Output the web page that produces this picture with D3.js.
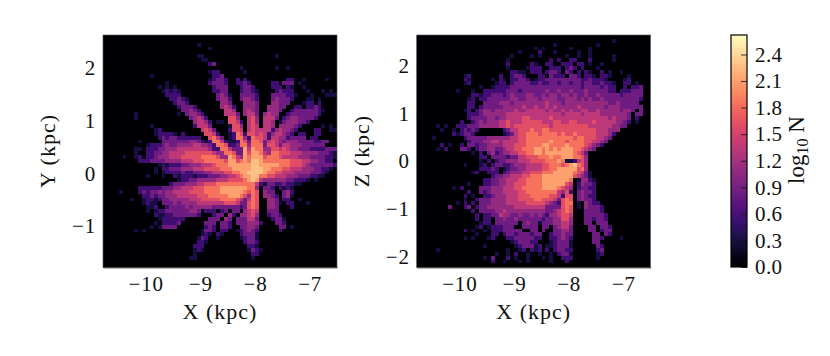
<!DOCTYPE html>
<html><head><meta charset="utf-8"><script src="https://d3js.org/d3.v7.min.js"></script>
<style>html,body{margin:0;padding:0;background:#fff}svg{display:block}text{font-family:"Liberation Serif",serif;fill:#111}</style></head>
<body><svg id="c" width="830" height="356"></svg>
<script>
// log10 N for each digit used in the grids below
const levels=[0,0.3,0.55,0.85,1.1,1.35,1.6,1.85,2.1,2.28];
const cbTicks=[0,0.3,0.6,0.9,1.2,1.5,1.8,2.1,2.4];
const xTicks=[-10,-9,-8,-7];
const yTicks=[-1,0,1,2];
const zTicks=[-2,-1,0,1,2];
const xyRows=[
"","",
".......... .......... ....1.....",
".......... .......... .......1..",
"",
".......... .......... ....11.... .......... ....1.....",
".......... .......... .....11...",
".......... .......... .......23.",
".......... .......... .......... .....1.... ....1..1..",
".......... .......... .......122 ......1...",
".......... ..1....... ........22 3.........",
".......... .......... .......123 32..2.2... .......22. .1.....1..",
".......... ......1... .......233 32..2232.. ...22.333. 1.........",
".......... ....1.1.1. ........23 33...2332. ...222.21. .1........",
".......... .....12121 ........22 33...23321 ....23222. ..1...1.1.",
".......... ......2222 .........3 431..33332 ...3333221 ...1...111",
".......... .......223 21.......3 442..34432 ...343332. ..11.1....",
".......... ........23 32........ 443...4443 ...44333.. .122.2....",
".......... .........2 3332...... 4542..4443 ..44433..2 2.2232....",
".......... .......... 33432..... .554..4543 ..4443..23 3333321...",
"........1. .........1 .34432.... .5553.4553 .4544..233 333332....",
"........1. .......... ..34542... ..664..564 .5553.2344 33332.....",
".......... .......... ...45542.1 1.6652.564 .554.13444 332.......",
".......... ..1....... ...25553.. ..1664.565 .554.44443 2.....1.1.",
".......... ...12..... .....5653. ..2665.565 5552454432 ....22..11",
".......... ...122221. 2.....6652 ..12762665 652455432. 22..22....",
".......... ....232332 22222..675 3.12774276 6525544233 33.22.....",
".........1 .....33333 3344321277 5211276377 6356543444 33332233..",
".......... .122234334 4445544327 7622377477 7366535544 4333333...",
"........11 .222334445 5555555422 7753338587 7446656544 3332222333",
"........1. .223344555 5666666654 4776338688 7547766655 5444433321",
".....1..12 .223444555 6666677776 4487548788 8677765555 4443333221",
".........2 2233334444 5556667777 7688678799 8777777766 655443322.",
".......... ....121222 3344455567 7788888899 8888877766 6543333332",
".......... ...1.22333 4445556666 7778888899 9887776655 544433221.",
".......... ...1.12222 3223334455 5667788999 9877665554 44433321..",
".......... .1...1..21 2221222333 4455678899 7766555444 3332211...",
".......... .........1 2233444445 5566667898 5444444332 221.1.....",
".......... .......233 3444556667 7777777775 2133223221 1.........",
".........2 2222233344 5556667777 8888888774 .332.2121.",
"....1....2 3233434455 5566667777 8888887676 .433..342.",
".......... 2232334445 5555666777 7788876476 .4432.341.",
".......1.. 1221233444 4455566666 7777653576 ..443.22.. 1.........",
".......... 1211.33343 4444555555 5666533676 ..4431.22. ..1.......",
".......... .112..2333 3434444433 3333323676 ..443...2.",
".......... .1.1223333 33443.222. 23.33.4565 ..333.....",
".......... ...2112233 33332...23 3.42.44564 ..2332....",
".......... ....122222 2......333 .43.333553 ...2331...",
".......... ...1.22223 ......333. 332.333444 2...332...",
".......... ..1.13333. ......232. 332..33443 .....33.1.",
"........1. 1......... .....1332. 22..123432 .....2....",
".......... .......... .....121.2 1....23331",
".......... .......... ....132..1 .....12331",
".......... .......... ....221... ......2332",
".......... .......... ...222.... .......221",
".......... .......... ...121.... .......132 1.........",
".......... .......... ...1...... ........22",
".......... .......... ..11...... ........1.",
"",""
];
const xzRows=[
"",
".......... .......... .......... .......... .......... 1.........",
".......... .......... .......... .....1.... ......1...",
".......... .......... .......... 1.1......1 ....1.....",
".......... .......... ......1... .2...1.... .1..1.....",
".......... .......... ....1....1 .1......1. .1..1..... 1.........",
".......... .......... ...1...... ....2.2..2 2...2..... 1.........",
".......... .......... ...2.....2 1..22..222 .22.1..1..",
".......... .......... ...1....12 22..222.23 2.2...1...",
".......... .......... ....2211.2 22.2332.32 .2.21..2.1 ..1.......",
".......... ..12...... .2..2332.. .22.3222.3 32.221.221 ....1.....",
".......... ..21.....1 .21.22332. 1223333333 332232221. ...12.....",
".......... ..12...... 122.233332 2322332332 3323322322 1..22.1...",
".......... ......1..1 2222333333 3333333333 3323333232 2..2.223..",
".......... 1...1..222 2223332333 3334334334 3334333332 2.222333..",
".......... ....221223 3323433344 3343443443 4334334333 33233333..",
".......... ...12.2233 3333443344 4344443344 4343433433 33333332..",
".......... ...22..333 3444344444 4445444344 4444444443 3433333...",
".......... ...22.2333 3344444544 5445454444 4544444434 44333333..",
".......... ..12.23443 4444454455 5554544545 4455445444 443443.3..",
".......... ...2223444 4445555555 5555555455 5545555444 44443.33..",
".......... ...2333344 3445555665 5555655555 5555555554 54443.2...",
".......... .2..234344 4556555666 6655566556 6555565555 54432.1...",
".....1.1.. 2223334444 4556566666 6666566666 6666555555 4433......",
"......1..1 .23232.... ..23556667 6677666666 6666665554 44........",
".........2 12332..... ..12356677 7677776766 7666665554 2.........",
"....1..... ..23333344 4444556677 7777777777 6776665543",
".......... ...2333445 5455556677 7777877767 777665543.",
"......2.1. .2.3323344 4455566677 7788777787 77765432..",
".....1.2.. .332.23344 3345566777 8878787888 776543....",
".......... ....1.2.34 2344556677 8878888888 7653......",
".......... ......22.3 3332335566 6777877888 7764......",
".......... ......1.2. 2334445556 6667778711 2564......",
".......... ..1...12.2 3322344455 5566777678 9764......",
".......... ......2223 2.12334455 5566778888 8674......",
".......... ....12..22 2.23444556 6677788888 76531.....",
".......... .........2 3344555667 7788888888 65431.....",
".......... .......223 3445556677 7788888887 .14421....",
".......... ...1...223 3445566677 7788888865 .24332....",
".........1 .2....3334 4455566777 7788887654 .23322....",
".......... ...2..3234 4455556677 7777775462 .34332....",
".......... ..2.1..223 4445556667 7777665266 .34322....",
".......... ..1..23334 4445556666 7766653676 .34332....",
".......... 1.2.2.3334 4445555566 6665432677 .1.4322...",
"........3. ..23.23344 4444455555 5553333676 .1.43332..",
".......... ....2.3333 4454444444 4443345676 ...33332..",
".......... .....2.223 3544334334 3432445665 ...333332.",
".......... .....2.22. 3343343333 3323344664 ...332332.",
".......... ......122. 333333.343 3133344554 ...33.333.",
".......... .....12.12 22333..333 3.33.34553 ....33.332",
".......... ..2.1..1.2 2233333..3 3.3..33443 ....33.233",
".......... .....1...2 2.23323332 33..233433 .....33.32",
".......... ..1.1...12 ...2233333 22..223432 .....332.. ..1.......",
".......... .......... ....123332 2...123331 .....33...",
".......... .......1.. .....12333 12.1123331 ......32..",
".....1.... .......... ...1..12.2 12.2.23322 ......23..",
".......... .......... 1..1.2..1. .1..1.2331 ......12..",
".......... .......1.3 ...2.1..1. ..1.1..222 ......1...",
".......... .........2 ..1...1.1. ....1...2.",
""
];

const svg=d3.select("#c");
const nBins=60;
const vmax=2.62;
const color=v=>d3.interpolateMagma(v/vmax);
const decode=r=>{const s=r.replace(/ /g,"").padEnd(nBins,".");return Array.from(s,c=>c==="."?0:levels[+c]);};
const soft=svg.append("defs").append("filter").attr("id","soft").attr("x","-2%").attr("y","-2%").attr("width","104%").attr("height","104%");
soft.append("feGaussianBlur").attr("stdDeviation",0.45);

function panel(o,idx){
  const x=d3.scaleLinear().domain(o.xDomain).range([o.left,o.right]);
  const y=d3.scaleLinear().domain(o.yDomain).range([267.3,35]);
  const dx=(o.xDomain[1]-o.xDomain[0])/nBins, dy=(o.yDomain[1]-o.yDomain[0])/nBins;
  const g=svg.append("g");
  const cells=[];
  o.rows.forEach((r,ri)=>decode(r).forEach((v,ci)=>cells.push({
    x0:o.xDomain[0]+ci*dx,x1:o.xDomain[0]+(ci+1)*dx,
    y1:o.yDomain[1]-ri*dy,y0:o.yDomain[1]-(ri+1)*dy,v})));
  g.append("clipPath").attr("id","clip"+idx).append("rect").attr("x",o.left).attr("y",35).attr("width",o.right-o.left).attr("height",232.3);
  const clip=g.append("g").attr("clip-path","url(#clip"+idx+")");
  clip.append("rect").attr("x",o.left).attr("y",35).attr("width",o.right-o.left).attr("height",232.3).attr("fill",color(0));
  clip.append("g").attr("filter","url(#soft)").selectAll("rect").data(cells.filter(d=>d.v>0)).join("rect")
    .attr("x",d=>x(d.x0)).attr("y",d=>y(d.y1))
    .attr("width",d=>x(d.x1)-x(d.x0)).attr("height",d=>y(d.y0)-y(d.y1))
    .attr("fill",d=>color(d.v)).attr("shape-rendering","crispEdges");
  const style=s=>{s.selectAll("text").attr("font-size",21).attr("letter-spacing",0.8).attr("font-family","Liberation Serif");
      s.selectAll("line,path").attr("stroke","#000");};
  g.append("g").attr("transform","translate(0,267.3)")
    .call(d3.axisBottom(x).tickValues(xTicks).tickFormat(d3.format("d")).tickSizeInner(-5).tickSizeOuter(0).tickPadding(9))
    .call(style).call(s=>s.selectAll("text").attr("dy","0.71em"));
  g.append("g").attr("transform","translate("+o.left+",0)")
    .call(d3.axisLeft(y).tickValues(o.yTicks).tickFormat(d3.format("d")).tickSizeInner(-5).tickSizeOuter(0).tickPadding(7))
    .call(style);
  g.append("rect").attr("x",o.left).attr("y",35).attr("width",o.right-o.left).attr("height",232.3)
    .attr("fill","none").attr("stroke","#555").attr("stroke-width",0.6);
  g.append("text").attr("x",(o.left+o.right)/2).attr("y",319).attr("text-anchor","middle").attr("font-size",22).attr("letter-spacing",1).text("X (kpc)");
  g.append("text").attr("transform","translate("+(o.left-48)+",151) rotate(-90)").attr("text-anchor","middle").attr("font-size",22).attr("letter-spacing",1).text(o.yLabel);
}
panel({left:103,right:337,xDomain:[-10.78,-6.5],yDomain:[-1.78,2.62],yTicks:yTicks,yLabel:"Y (kpc)",rows:xyRows},0);
panel({left:416.7,right:650.7,xDomain:[-10.78,-6.5],yDomain:[-2.23,2.65],yTicks:zTicks,yLabel:"Z (kpc)",rows:xzRows},1);

// colour bar
const cy=d3.scaleLinear().domain([0,vmax]).range([267,35]);
const defs=svg.append("defs").append("linearGradient").attr("id","mg").attr("x1",0).attr("x2",0).attr("y1",1).attr("y2",0);
d3.range(0,1.001,0.05).forEach(t=>defs.append("stop").attr("offset",t).attr("stop-color",d3.interpolateMagma(t)));
svg.append("rect").attr("x",731).attr("y",35).attr("width",16).attr("height",232).attr("fill","url(#mg)");
const cb=svg.append("g").attr("transform","translate(747,0)")
  .call(d3.axisRight(cy).tickValues(cbTicks).tickFormat(d3.format(".1f")).tickSizeInner(-6).tickSizeOuter(0).tickPadding(8));
cb.selectAll("text").attr("font-size",21).attr("letter-spacing",0.4).attr("font-family","Liberation Serif");
cb.selectAll("line").attr("stroke","#111").attr("stroke-width",0.8);
cb.select("path").remove();
svg.append("rect").attr("x",731).attr("y",35).attr("width",16).attr("height",232).attr("fill","none").attr("stroke","#000").attr("stroke-width",1.2);
const lab=svg.append("text").attr("transform","translate(804,150) rotate(-90)").attr("text-anchor","middle").attr("font-size",23);
lab.append("tspan").text("log");
lab.append("tspan").attr("font-size",16).attr("dy",4).text("10");
lab.append("tspan").attr("dy",-4).attr("dx",6).text("N");
</script></body></html>
